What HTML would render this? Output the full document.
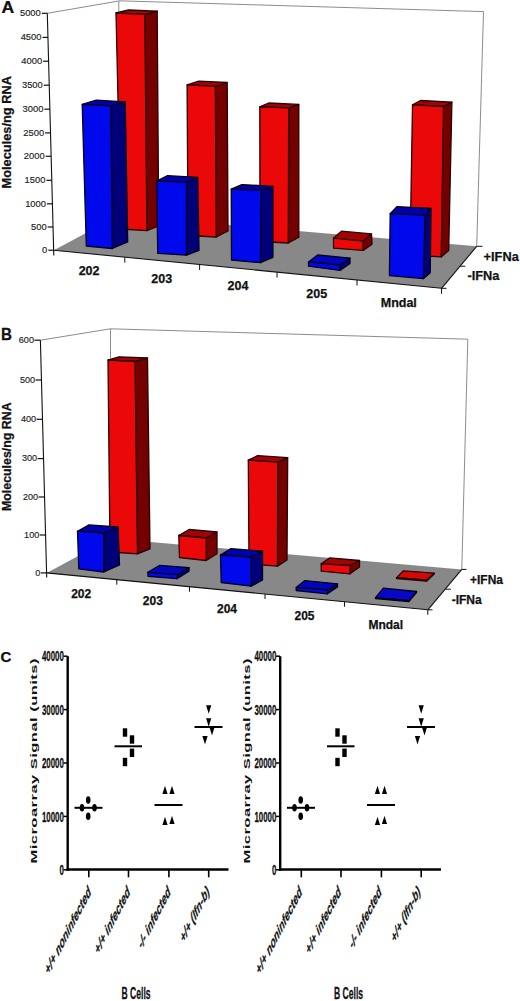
<!DOCTYPE html>
<html><head><meta charset="utf-8"><style>
html,body{margin:0;padding:0;background:#fff;}
body{width:520px;height:1001px;overflow:hidden;}
svg{display:block;font-family:"Liberation Sans",sans-serif;}
</style></head><body>
<svg width="520" height="1001" viewBox="0 0 520 1001">
<rect width="520" height="1001" fill="#fff"/>
<line x1="47.3" y1="13.3" x2="118.8" y2="1.0" stroke="#8c8c8c" stroke-width="1"/>
<line x1="118.8" y1="0.8" x2="483.5" y2="11.6" stroke="#8c8c8c" stroke-width="1"/>
<line x1="483.5" y1="11.6" x2="476.7" y2="246.3" stroke="#8c8c8c" stroke-width="1"/>
<line x1="118.8" y1="1.0" x2="118.8" y2="217.0" stroke="#8c8c8c" stroke-width="1"/>
<polygon points="53.8,250.2 118.8,215.5 476.7,246.3 441.5,288.3" fill="#888888"/>
<polygon points="144.8,14.3 157.2,11.2 158.7,226.0 146.9,230.6" fill="#740000" stroke="#2a0000" stroke-width="1.3" stroke-linejoin="round"/>
<polygon points="116.0,13.0 128.5,10.0 157.2,11.2 144.8,14.3" fill="#a20404" stroke="#2a0000" stroke-width="1.3" stroke-linejoin="round"/>
<polygon points="116.0,13.0 144.8,14.3 146.9,230.6 121.0,229.0" fill="#eb0808" stroke="#2a0000" stroke-width="1.3" stroke-linejoin="round"/>
<polygon points="215.3,86.3 227.2,82.5 228.0,231.0 216.3,237.0" fill="#740000" stroke="#2a0000" stroke-width="1.3" stroke-linejoin="round"/>
<polygon points="187.1,84.9 198.8,81.2 227.2,82.5 215.3,86.3" fill="#a20404" stroke="#2a0000" stroke-width="1.3" stroke-linejoin="round"/>
<polygon points="187.1,84.9 215.3,86.3 216.3,237.0 188.0,235.5" fill="#eb0808" stroke="#2a0000" stroke-width="1.3" stroke-linejoin="round"/>
<polygon points="288.7,107.9 298.8,104.4 298.8,237.3 288.3,243.0" fill="#740000" stroke="#2a0000" stroke-width="1.3" stroke-linejoin="round"/>
<polygon points="259.8,106.9 268.7,103.0 298.8,104.4 288.7,107.9" fill="#a20404" stroke="#2a0000" stroke-width="1.3" stroke-linejoin="round"/>
<polygon points="259.8,106.9 288.7,107.9 288.3,243.0 260.0,241.5" fill="#eb0808" stroke="#2a0000" stroke-width="1.3" stroke-linejoin="round"/>
<polygon points="363.1,241.2 371.5,233.9 372.0,244.2 363.1,250.4" fill="#740000" stroke="#2a0000" stroke-width="1.3" stroke-linejoin="round"/>
<polygon points="333.5,238.1 341.5,231.2 371.5,233.9 363.1,241.2" fill="#a20404" stroke="#2a0000" stroke-width="1.3" stroke-linejoin="round"/>
<polygon points="333.5,238.1 363.1,241.2 363.1,250.4 333.5,248.1" fill="#eb0808" stroke="#2a0000" stroke-width="1.3" stroke-linejoin="round"/>
<polygon points="443.5,106.5 451.9,102.1 448.7,250.4 441.2,256.9" fill="#740000" stroke="#2a0000" stroke-width="1.3" stroke-linejoin="round"/>
<polygon points="412.5,104.8 420.5,100.5 451.9,102.1 443.5,106.5" fill="#a20404" stroke="#2a0000" stroke-width="1.3" stroke-linejoin="round"/>
<polygon points="412.5,104.8 443.5,106.5 441.2,256.9 410.0,255.0" fill="#eb0808" stroke="#2a0000" stroke-width="1.3" stroke-linejoin="round"/>
<polygon points="110.9,105.8 125.2,101.8 127.7,242.0 112.3,248.5" fill="#000078" stroke="#00001a" stroke-width="1.3" stroke-linejoin="round"/>
<polygon points="82.2,104.4 96.3,100.2 125.2,101.8 110.9,105.8" fill="#0000ac" stroke="#00001a" stroke-width="1.3" stroke-linejoin="round"/>
<polygon points="82.2,104.4 110.9,105.8 112.3,248.5 86.3,246.0" fill="#0008ec" stroke="#00001a" stroke-width="1.3" stroke-linejoin="round"/>
<polygon points="186.5,182.2 197.7,177.3 199.0,250.4 186.5,255.2" fill="#000078" stroke="#00001a" stroke-width="1.3" stroke-linejoin="round"/>
<polygon points="156.7,181.2 167.6,175.7 197.7,177.3 186.5,182.2" fill="#0000ac" stroke="#00001a" stroke-width="1.3" stroke-linejoin="round"/>
<polygon points="156.7,181.2 186.5,182.2 186.5,255.2 157.7,253.3" fill="#0008ec" stroke="#00001a" stroke-width="1.3" stroke-linejoin="round"/>
<polygon points="261.3,190.2 272.9,186.3 272.9,257.5 260.4,262.7" fill="#000078" stroke="#00001a" stroke-width="1.3" stroke-linejoin="round"/>
<polygon points="231.2,189.2 241.9,184.6 272.9,186.3 261.3,190.2" fill="#0000ac" stroke="#00001a" stroke-width="1.3" stroke-linejoin="round"/>
<polygon points="231.2,189.2 261.3,190.2 260.4,262.7 231.5,260.0" fill="#0008ec" stroke="#00001a" stroke-width="1.3" stroke-linejoin="round"/>
<polygon points="340.0,265.0 350.0,258.1 350.0,263.5 340.0,270.4" fill="#000078" stroke="#00001a" stroke-width="1.3" stroke-linejoin="round"/>
<polygon points="308.5,261.9 317.6,255.0 350.0,258.1 340.0,265.0" fill="#0006c0" stroke="#00001a" stroke-width="1.3" stroke-linejoin="round"/>
<polygon points="308.5,261.9 340.0,265.0 340.0,270.4 308.5,266.2" fill="#0008ec" stroke="#00001a" stroke-width="1.3" stroke-linejoin="round"/>
<polygon points="425.0,215.2 431.0,208.5 430.2,272.8 423.5,278.6" fill="#000078" stroke="#00001a" stroke-width="1.3" stroke-linejoin="round"/>
<polygon points="390.2,213.7 396.9,206.6 431.0,208.5 425.0,215.2" fill="#0000ac" stroke="#00001a" stroke-width="1.3" stroke-linejoin="round"/>
<polygon points="390.2,213.7 425.0,215.2 423.5,278.6 389.4,275.6" fill="#0008ec" stroke="#00001a" stroke-width="1.3" stroke-linejoin="round"/>
<line x1="53.8" y1="250.2" x2="441.5" y2="288.3" stroke="#111" stroke-width="1.1"/>
<line x1="441.5" y1="288.3" x2="476.7" y2="246.3" stroke="#111" stroke-width="1.1"/>
<line x1="476.7" y1="246.3" x2="482.5" y2="246.3" stroke="#111" stroke-width="1"/>
<line x1="460.0" y1="266.2" x2="465.2" y2="266.2" stroke="#111" stroke-width="1"/>
<line x1="441.5" y1="288.3" x2="446.5" y2="288.3" stroke="#111" stroke-width="1"/>
<line x1="124.8" y1="257.2" x2="124.8" y2="262.7" stroke="#111" stroke-width="1"/>
<line x1="199.6" y1="264.5" x2="199.6" y2="270.0" stroke="#111" stroke-width="1"/>
<line x1="277.0" y1="272.1" x2="277.0" y2="277.6" stroke="#111" stroke-width="1"/>
<line x1="357.0" y1="280.0" x2="357.0" y2="285.5" stroke="#111" stroke-width="1"/>
<line x1="441.5" y1="288.3" x2="441.5" y2="293.8" stroke="#111" stroke-width="1"/>
<line x1="47.3" y1="13.3" x2="53.8" y2="255.5" stroke="#111" stroke-width="1.1"/>
<line x1="41.8" y1="13.3" x2="47.3" y2="13.3" stroke="#111" stroke-width="1.2"/>
<text x="40.8" y="16.0" font-size="9.4" font-weight="normal" text-anchor="end" fill="#222" stroke="#222" stroke-width="0.15" >5000</text>
<line x1="42.5" y1="37.4" x2="48.0" y2="37.4" stroke="#111" stroke-width="1.2"/>
<text x="41.5" y="40.1" font-size="9.4" font-weight="normal" text-anchor="end" fill="#222" stroke="#222" stroke-width="0.15" >4500</text>
<line x1="43.1" y1="61.2" x2="48.6" y2="61.2" stroke="#111" stroke-width="1.2"/>
<text x="42.1" y="63.9" font-size="9.4" font-weight="normal" text-anchor="end" fill="#222" stroke="#222" stroke-width="0.15" >4000</text>
<line x1="43.8" y1="85.2" x2="49.3" y2="85.2" stroke="#111" stroke-width="1.2"/>
<text x="42.8" y="87.9" font-size="9.4" font-weight="normal" text-anchor="end" fill="#222" stroke="#222" stroke-width="0.15" >3500</text>
<line x1="44.4" y1="109.2" x2="49.9" y2="109.2" stroke="#111" stroke-width="1.2"/>
<text x="43.4" y="111.9" font-size="9.4" font-weight="normal" text-anchor="end" fill="#222" stroke="#222" stroke-width="0.15" >3000</text>
<line x1="45.1" y1="132.9" x2="50.6" y2="132.9" stroke="#111" stroke-width="1.2"/>
<text x="44.1" y="135.6" font-size="9.4" font-weight="normal" text-anchor="end" fill="#222" stroke="#222" stroke-width="0.15" >2500</text>
<line x1="45.7" y1="156.3" x2="51.2" y2="156.3" stroke="#111" stroke-width="1.2"/>
<text x="44.7" y="159.0" font-size="9.4" font-weight="normal" text-anchor="end" fill="#222" stroke="#222" stroke-width="0.15" >2000</text>
<line x1="46.4" y1="180.3" x2="51.9" y2="180.3" stroke="#111" stroke-width="1.2"/>
<text x="45.4" y="183.0" font-size="9.4" font-weight="normal" text-anchor="end" fill="#222" stroke="#222" stroke-width="0.15" >1500</text>
<line x1="47.0" y1="203.8" x2="52.5" y2="203.8" stroke="#111" stroke-width="1.2"/>
<text x="46.0" y="206.5" font-size="9.4" font-weight="normal" text-anchor="end" fill="#222" stroke="#222" stroke-width="0.15" >1000</text>
<line x1="47.7" y1="227.0" x2="53.2" y2="227.0" stroke="#111" stroke-width="1.2"/>
<text x="46.7" y="229.7" font-size="9.4" font-weight="normal" text-anchor="end" fill="#222" stroke="#222" stroke-width="0.15" >500</text>
<line x1="48.3" y1="250.2" x2="53.8" y2="250.2" stroke="#111" stroke-width="1.2"/>
<text x="47.3" y="252.9" font-size="9.4" font-weight="normal" text-anchor="end" fill="#222" stroke="#222" stroke-width="0.15" >0</text>
<text x="1.6" y="12.7" font-size="16" font-weight="bold" text-anchor="start" fill="#111" stroke="#111" stroke-width="0.25" transform="translate(1.6,12.7) scale(1.1,1) translate(-1.6,-12.7)">A</text>
<text transform="translate(11,132.3) rotate(-90)" font-size="12.8" font-weight="bold" text-anchor="middle" fill="#111" stroke="#111" stroke-width="0.25">Molecules/ng RNA</text>
<text x="89.1" y="275.0" font-size="12.5" font-weight="bold" text-anchor="middle" fill="#111" stroke="#111" stroke-width="0.25" >202</text>
<text x="161.7" y="282.9" font-size="12.5" font-weight="bold" text-anchor="middle" fill="#111" stroke="#111" stroke-width="0.25" >203</text>
<text x="238.0" y="290.2" font-size="12.5" font-weight="bold" text-anchor="middle" fill="#111" stroke="#111" stroke-width="0.25" >204</text>
<text x="316.8" y="297.7" font-size="12.5" font-weight="bold" text-anchor="middle" fill="#111" stroke="#111" stroke-width="0.25" >205</text>
<text x="398.8" y="306.8" font-size="12.5" font-weight="bold" text-anchor="middle" fill="#111" stroke="#111" stroke-width="0.25" >Mndal</text>
<text x="483.6" y="260.5" font-size="12.8" font-weight="bold" text-anchor="start" fill="#111" stroke="#111" stroke-width="0.25" >+IFNa</text>
<text x="467.4" y="280.2" font-size="12.8" font-weight="bold" text-anchor="start" fill="#111" stroke="#111" stroke-width="0.25" >-IFNa</text>
<line x1="40.4" y1="340.2" x2="110.5" y2="328.8" stroke="#8c8c8c" stroke-width="1"/>
<line x1="110.5" y1="328.8" x2="467.8" y2="339.2" stroke="#8c8c8c" stroke-width="1"/>
<line x1="467.8" y1="339.2" x2="461.8" y2="569.4" stroke="#8c8c8c" stroke-width="1"/>
<line x1="110.5" y1="328.8" x2="110.5" y2="540.0" stroke="#8c8c8c" stroke-width="1"/>
<polygon points="46.7,572.9 110.5,538.6 461.8,569.4 427.8,609.8" fill="#888888"/>
<polygon points="135.0,361.5 147.5,358.0 150.0,548.8 137.5,553.8" fill="#740000" stroke="#2a0000" stroke-width="1.3" stroke-linejoin="round"/>
<polygon points="108.0,360.0 119.0,356.8 147.5,358.0 135.0,361.5" fill="#a20404" stroke="#2a0000" stroke-width="1.3" stroke-linejoin="round"/>
<polygon points="108.0,360.0 135.0,361.5 137.5,553.8 110.0,552.0" fill="#eb0808" stroke="#2a0000" stroke-width="1.3" stroke-linejoin="round"/>
<polygon points="206.2,538.0 217.0,532.0 217.0,553.8 206.2,560.5" fill="#740000" stroke="#2a0000" stroke-width="1.3" stroke-linejoin="round"/>
<polygon points="178.8,535.5 189.1,529.5 217.0,532.0 206.2,538.0" fill="#a20404" stroke="#2a0000" stroke-width="1.3" stroke-linejoin="round"/>
<polygon points="178.8,535.5 206.2,538.0 206.2,560.5 179.5,557.5" fill="#eb0808" stroke="#2a0000" stroke-width="1.3" stroke-linejoin="round"/>
<polygon points="277.7,462.1 287.7,457.7 287.0,560.0 277.5,566.2" fill="#740000" stroke="#2a0000" stroke-width="1.3" stroke-linejoin="round"/>
<polygon points="248.3,460.2 257.6,455.6 287.7,457.7 277.7,462.1" fill="#a20404" stroke="#2a0000" stroke-width="1.3" stroke-linejoin="round"/>
<polygon points="248.3,460.2 277.7,462.1 277.5,566.2 249.0,564.0" fill="#eb0808" stroke="#2a0000" stroke-width="1.3" stroke-linejoin="round"/>
<polygon points="350.0,565.5 359.5,560.5 359.5,567.0 350.0,573.8" fill="#740000" stroke="#2a0000" stroke-width="1.3" stroke-linejoin="round"/>
<polygon points="321.2,563.8 329.8,557.9 359.5,560.5 350.0,565.5" fill="#a20404" stroke="#2a0000" stroke-width="1.3" stroke-linejoin="round"/>
<polygon points="321.2,563.8 350.0,565.5 350.0,573.8 321.2,571.2" fill="#eb0808" stroke="#2a0000" stroke-width="1.3" stroke-linejoin="round"/>
<polygon points="426.5,580.2 434.2,573.1 434.2,574.1 426.5,581.2" fill="#740000" stroke="#2a0000" stroke-width="1.3" stroke-linejoin="round"/>
<polygon points="396.5,577.6 403.5,570.8 434.2,573.1 426.5,580.2" fill="#d40808" stroke="#2a0000" stroke-width="1.3" stroke-linejoin="round"/>
<polygon points="396.5,577.6 426.5,580.2 426.5,581.2 396.5,578.6" fill="#eb0808" stroke="#2a0000" stroke-width="1.3" stroke-linejoin="round"/>
<polygon points="103.8,533.0 118.0,527.0 119.5,565.0 103.8,572.0" fill="#000078" stroke="#00001a" stroke-width="1.3" stroke-linejoin="round"/>
<polygon points="77.5,531.2 89.0,524.9 118.0,527.0 103.8,533.0" fill="#0000ac" stroke="#00001a" stroke-width="1.3" stroke-linejoin="round"/>
<polygon points="77.5,531.2 103.8,533.0 103.8,572.0 78.8,568.8" fill="#0008ec" stroke="#00001a" stroke-width="1.3" stroke-linejoin="round"/>
<polygon points="177.5,574.6 189.0,567.7 189.0,571.2 177.0,578.7" fill="#000078" stroke="#00001a" stroke-width="1.3" stroke-linejoin="round"/>
<polygon points="147.8,572.3 159.8,565.3 189.0,567.7 177.5,574.6" fill="#0006c0" stroke="#00001a" stroke-width="1.3" stroke-linejoin="round"/>
<polygon points="147.8,572.3 177.5,574.6 177.0,578.7 148.1,576.3" fill="#0008ec" stroke="#00001a" stroke-width="1.3" stroke-linejoin="round"/>
<polygon points="251.2,557.0 262.5,551.2 262.5,580.0 251.2,586.2" fill="#000078" stroke="#00001a" stroke-width="1.3" stroke-linejoin="round"/>
<polygon points="220.5,555.0 230.9,548.6 262.5,551.2 251.2,557.0" fill="#0000ac" stroke="#00001a" stroke-width="1.3" stroke-linejoin="round"/>
<polygon points="220.5,555.0 251.2,557.0 251.2,586.2 221.2,582.5" fill="#0008ec" stroke="#00001a" stroke-width="1.3" stroke-linejoin="round"/>
<polygon points="328.0,590.0 337.5,583.8 337.5,587.0 327.5,593.8" fill="#000078" stroke="#00001a" stroke-width="1.3" stroke-linejoin="round"/>
<polygon points="296.2,587.5 304.8,580.6 337.5,583.8 328.0,590.0" fill="#0006c0" stroke="#00001a" stroke-width="1.3" stroke-linejoin="round"/>
<polygon points="296.2,587.5 328.0,590.0 327.5,593.8 296.2,590.5" fill="#0008ec" stroke="#00001a" stroke-width="1.3" stroke-linejoin="round"/>
<polygon points="408.8,600.6 416.5,591.5 416.5,592.5 408.8,601.6" fill="#000078" stroke="#00001a" stroke-width="1.3" stroke-linejoin="round"/>
<polygon points="375.5,597.6 383.4,588.2 416.5,591.5 408.8,600.6" fill="#0808c8" stroke="#00001a" stroke-width="1.3" stroke-linejoin="round"/>
<polygon points="375.5,597.6 408.8,600.6 408.8,601.6 375.5,598.6" fill="#0008ec" stroke="#00001a" stroke-width="1.3" stroke-linejoin="round"/>
<line x1="46.7" y1="572.9" x2="427.8" y2="609.8" stroke="#111" stroke-width="1.1"/>
<line x1="427.8" y1="609.8" x2="461.8" y2="569.4" stroke="#111" stroke-width="1.1"/>
<line x1="461.8" y1="569.4" x2="466.5" y2="569.4" stroke="#111" stroke-width="1"/>
<line x1="445.6" y1="589.2" x2="450.8" y2="589.2" stroke="#111" stroke-width="1"/>
<line x1="427.8" y1="609.8" x2="432.5" y2="609.8" stroke="#111" stroke-width="1"/>
<line x1="116.8" y1="579.7" x2="116.8" y2="584.7" stroke="#111" stroke-width="1"/>
<line x1="189.5" y1="586.7" x2="189.5" y2="591.7" stroke="#111" stroke-width="1"/>
<line x1="265.0" y1="594.0" x2="265.0" y2="599.0" stroke="#111" stroke-width="1"/>
<line x1="344.5" y1="601.7" x2="344.5" y2="606.7" stroke="#111" stroke-width="1"/>
<line x1="427.8" y1="609.8" x2="427.8" y2="614.8" stroke="#111" stroke-width="1"/>
<line x1="40.4" y1="340.2" x2="46.7" y2="577.5" stroke="#111" stroke-width="1.1"/>
<line x1="34.4" y1="340.2" x2="40.4" y2="340.2" stroke="#111" stroke-width="1.2"/>
<text x="34.0" y="343.0" font-size="9.1" font-weight="normal" text-anchor="end" fill="#222" stroke="#222" stroke-width="0.15" >600</text>
<line x1="35.5" y1="380.0" x2="41.5" y2="380.0" stroke="#111" stroke-width="1.2"/>
<text x="35.1" y="382.8" font-size="9.1" font-weight="normal" text-anchor="end" fill="#222" stroke="#222" stroke-width="0.15" >500</text>
<line x1="36.5" y1="419.3" x2="42.5" y2="419.3" stroke="#111" stroke-width="1.2"/>
<text x="36.1" y="422.1" font-size="9.1" font-weight="normal" text-anchor="end" fill="#222" stroke="#222" stroke-width="0.15" >400</text>
<line x1="37.6" y1="458.6" x2="43.6" y2="458.6" stroke="#111" stroke-width="1.2"/>
<text x="37.2" y="461.4" font-size="9.1" font-weight="normal" text-anchor="end" fill="#222" stroke="#222" stroke-width="0.15" >300</text>
<line x1="38.6" y1="497.0" x2="44.6" y2="497.0" stroke="#111" stroke-width="1.2"/>
<text x="38.2" y="499.8" font-size="9.1" font-weight="normal" text-anchor="end" fill="#222" stroke="#222" stroke-width="0.15" >200</text>
<line x1="39.7" y1="535.0" x2="45.7" y2="535.0" stroke="#111" stroke-width="1.2"/>
<text x="39.3" y="537.8" font-size="9.1" font-weight="normal" text-anchor="end" fill="#222" stroke="#222" stroke-width="0.15" >100</text>
<line x1="40.7" y1="572.9" x2="46.7" y2="572.9" stroke="#111" stroke-width="1.2"/>
<text x="40.3" y="575.7" font-size="9.1" font-weight="normal" text-anchor="end" fill="#222" stroke="#222" stroke-width="0.15" >0</text>
<text x="1.0" y="340.4" font-size="16" font-weight="bold" text-anchor="start" fill="#111" stroke="#111" stroke-width="0.25" transform="translate(1,340.4) scale(0.95,1.06) translate(-1,-340.4)">B</text>
<text transform="translate(10.5,456.7) rotate(-90)" font-size="12.4" font-weight="bold" text-anchor="middle" fill="#111" stroke="#111" stroke-width="0.25">Molecules/ng RNA</text>
<text x="81.2" y="598.0" font-size="12" font-weight="bold" text-anchor="middle" fill="#111" stroke="#111" stroke-width="0.25" >202</text>
<text x="152.8" y="604.5" font-size="12" font-weight="bold" text-anchor="middle" fill="#111" stroke="#111" stroke-width="0.25" >203</text>
<text x="227.0" y="612.5" font-size="12" font-weight="bold" text-anchor="middle" fill="#111" stroke="#111" stroke-width="0.25" >204</text>
<text x="304.5" y="620.0" font-size="12" font-weight="bold" text-anchor="middle" fill="#111" stroke="#111" stroke-width="0.25" >205</text>
<text x="385.8" y="628.6" font-size="12" font-weight="bold" text-anchor="middle" fill="#111" stroke="#111" stroke-width="0.25" >Mndal</text>
<text x="470.0" y="583.7" font-size="12" font-weight="bold" text-anchor="start" fill="#111" stroke="#111" stroke-width="0.25" >+IFNa</text>
<text x="451.7" y="604.0" font-size="12" font-weight="bold" text-anchor="start" fill="#111" stroke="#111" stroke-width="0.25" >-IFNa</text>
<line x1="67.7" y1="656.2" x2="67.7" y2="870.8" stroke="#000" stroke-width="2.4"/>
<line x1="66.5" y1="869.5" x2="228.5" y2="869.5" stroke="#000" stroke-width="2.5"/>
<line x1="63.5" y1="869.8" x2="67.5" y2="869.8" stroke="#000" stroke-width="1.5"/>
<text transform="translate(63.9,875.0) scale(0.545,1)" font-size="14.5" font-weight="bold" font-style="normal" text-anchor="end" fill="#111" stroke="#111" stroke-width="0.3">0</text>
<line x1="63.5" y1="816.4" x2="67.5" y2="816.4" stroke="#000" stroke-width="1.5"/>
<text transform="translate(63.9,821.6) scale(0.545,1)" font-size="14.5" font-weight="bold" font-style="normal" text-anchor="end" fill="#111" stroke="#111" stroke-width="0.3">10000</text>
<line x1="63.5" y1="763.0" x2="67.5" y2="763.0" stroke="#000" stroke-width="1.5"/>
<text transform="translate(63.9,768.2) scale(0.545,1)" font-size="14.5" font-weight="bold" font-style="normal" text-anchor="end" fill="#111" stroke="#111" stroke-width="0.3">20000</text>
<line x1="63.5" y1="709.6" x2="67.5" y2="709.6" stroke="#000" stroke-width="1.5"/>
<text transform="translate(63.9,714.8) scale(0.545,1)" font-size="14.5" font-weight="bold" font-style="normal" text-anchor="end" fill="#111" stroke="#111" stroke-width="0.3">30000</text>
<line x1="63.5" y1="656.2" x2="67.5" y2="656.2" stroke="#000" stroke-width="1.5"/>
<text transform="translate(63.9,661.4) scale(0.545,1)" font-size="14.5" font-weight="bold" font-style="normal" text-anchor="end" fill="#111" stroke="#111" stroke-width="0.3">40000</text>
<line x1="88.8" y1="869.8" x2="88.8" y2="877.3" stroke="#000" stroke-width="1.6"/>
<line x1="128.5" y1="869.8" x2="128.5" y2="877.3" stroke="#000" stroke-width="1.6"/>
<line x1="168.9" y1="869.8" x2="168.9" y2="877.3" stroke="#000" stroke-width="1.6"/>
<line x1="208.7" y1="869.8" x2="208.7" y2="877.3" stroke="#000" stroke-width="1.6"/>
<line x1="74.5" y1="807.8" x2="102.5" y2="807.8" stroke="#000" stroke-width="2"/>
<ellipse cx="88.2" cy="800.0" rx="2.3" ry="3.8" fill="#000"/>
<ellipse cx="82.0" cy="807.8" rx="2.3" ry="3.8" fill="#000"/>
<ellipse cx="94.5" cy="807.8" rx="2.3" ry="3.8" fill="#000"/>
<ellipse cx="88.2" cy="816.3" rx="2.3" ry="3.8" fill="#000"/>
<line x1="114.5" y1="746.3" x2="142.0" y2="746.3" stroke="#000" stroke-width="2"/>
<rect x="122.8" y="728.3" width="4.4" height="8.4" fill="#000"/>
<rect x="129.8" y="735.3" width="4.4" height="8.4" fill="#000"/>
<rect x="129.8" y="748.6" width="4.4" height="8.4" fill="#000"/>
<rect x="122.8" y="757.8" width="4.4" height="8.4" fill="#000"/>
<line x1="154.5" y1="805.0" x2="182.5" y2="805.0" stroke="#000" stroke-width="2"/>
<polygon points="165.0,785.8 167.6,794.0 162.4,794.0" fill="#000"/>
<polygon points="172.0,785.8 174.6,794.0 169.4,794.0" fill="#000"/>
<polygon points="165.0,816.8 167.6,825.0 162.4,825.0" fill="#000"/>
<polygon points="172.0,815.8 174.6,824.0 169.4,824.0" fill="#000"/>
<line x1="194.5" y1="727.0" x2="222.5" y2="727.0" stroke="#000" stroke-width="2"/>
<polygon points="206.1,705.3 211.3,705.3 208.7,713.7" fill="#000"/>
<polygon points="206.1,718.3 211.3,718.3 208.7,726.7" fill="#000"/>
<polygon points="209.4,727.1 214.6,727.1 212.0,735.5" fill="#000"/>
<polygon points="202.4,736.1 207.6,736.1 205.0,744.5" fill="#000"/>
<text transform="translate(37.2,761.0) scale(0.52,1) rotate(-90)" font-size="16.5" font-weight="bold" text-anchor="middle" textLength="205" lengthAdjust="spacing" fill="#111">Microarray Signal (units)</text>
<text transform="translate(91.5,892.8) scale(0.52,1) rotate(-45)" font-size="15.9" font-weight="bold" font-style="italic" text-anchor="end" fill="#111" stroke="#111" stroke-width="0.3">+/+ noninfected</text>
<text transform="translate(130.5,893.0) scale(0.52,1) rotate(-45)" font-size="15.9" font-weight="bold" font-style="italic" text-anchor="end" fill="#111" stroke="#111" stroke-width="0.3">+/+ infected</text>
<text transform="translate(171.0,893.0) scale(0.52,1) rotate(-45)" font-size="15.9" font-weight="bold" font-style="italic" text-anchor="end" fill="#111" stroke="#111" stroke-width="0.3">-/- infected</text>
<text transform="translate(210.0,892.5) scale(0.52,1) rotate(-45)" font-size="15.9" font-weight="bold" font-style="italic" text-anchor="end" fill="#111" stroke="#111" stroke-width="0.3">+/+ (<tspan font-style="italic">Ifn-b</tspan>)</text>
<text transform="translate(136.0,998.5) scale(0.52,1)" font-size="16.5" font-weight="bold" font-style="normal" text-anchor="middle" fill="#111" stroke="#111" stroke-width="0.3">B Cells</text>
<line x1="280.2" y1="656.2" x2="280.2" y2="870.8" stroke="#000" stroke-width="2.4"/>
<line x1="279.0" y1="869.5" x2="441.0" y2="869.5" stroke="#000" stroke-width="2.5"/>
<line x1="276.0" y1="869.8" x2="280.0" y2="869.8" stroke="#000" stroke-width="1.5"/>
<text transform="translate(276.4,875.0) scale(0.545,1)" font-size="14.5" font-weight="bold" font-style="normal" text-anchor="end" fill="#111" stroke="#111" stroke-width="0.3">0</text>
<line x1="276.0" y1="816.4" x2="280.0" y2="816.4" stroke="#000" stroke-width="1.5"/>
<text transform="translate(276.4,821.6) scale(0.545,1)" font-size="14.5" font-weight="bold" font-style="normal" text-anchor="end" fill="#111" stroke="#111" stroke-width="0.3">10000</text>
<line x1="276.0" y1="763.0" x2="280.0" y2="763.0" stroke="#000" stroke-width="1.5"/>
<text transform="translate(276.4,768.2) scale(0.545,1)" font-size="14.5" font-weight="bold" font-style="normal" text-anchor="end" fill="#111" stroke="#111" stroke-width="0.3">20000</text>
<line x1="276.0" y1="709.6" x2="280.0" y2="709.6" stroke="#000" stroke-width="1.5"/>
<text transform="translate(276.4,714.8) scale(0.545,1)" font-size="14.5" font-weight="bold" font-style="normal" text-anchor="end" fill="#111" stroke="#111" stroke-width="0.3">30000</text>
<line x1="276.0" y1="656.2" x2="280.0" y2="656.2" stroke="#000" stroke-width="1.5"/>
<text transform="translate(276.4,661.4) scale(0.545,1)" font-size="14.5" font-weight="bold" font-style="normal" text-anchor="end" fill="#111" stroke="#111" stroke-width="0.3">40000</text>
<line x1="301.3" y1="869.8" x2="301.3" y2="877.3" stroke="#000" stroke-width="1.6"/>
<line x1="341.0" y1="869.8" x2="341.0" y2="877.3" stroke="#000" stroke-width="1.6"/>
<line x1="381.4" y1="869.8" x2="381.4" y2="877.3" stroke="#000" stroke-width="1.6"/>
<line x1="421.2" y1="869.8" x2="421.2" y2="877.3" stroke="#000" stroke-width="1.6"/>
<line x1="287.0" y1="807.8" x2="315.0" y2="807.8" stroke="#000" stroke-width="2"/>
<ellipse cx="300.7" cy="800.0" rx="2.3" ry="3.8" fill="#000"/>
<ellipse cx="294.5" cy="807.8" rx="2.3" ry="3.8" fill="#000"/>
<ellipse cx="307.0" cy="807.8" rx="2.3" ry="3.8" fill="#000"/>
<ellipse cx="300.7" cy="816.3" rx="2.3" ry="3.8" fill="#000"/>
<line x1="327.0" y1="746.3" x2="354.5" y2="746.3" stroke="#000" stroke-width="2"/>
<rect x="335.3" y="728.3" width="4.4" height="8.4" fill="#000"/>
<rect x="342.3" y="735.3" width="4.4" height="8.4" fill="#000"/>
<rect x="342.3" y="748.6" width="4.4" height="8.4" fill="#000"/>
<rect x="335.3" y="757.8" width="4.4" height="8.4" fill="#000"/>
<line x1="367.0" y1="805.0" x2="395.0" y2="805.0" stroke="#000" stroke-width="2"/>
<polygon points="377.5,785.8 380.1,794.0 374.9,794.0" fill="#000"/>
<polygon points="384.5,785.8 387.1,794.0 381.9,794.0" fill="#000"/>
<polygon points="377.5,816.8 380.1,825.0 374.9,825.0" fill="#000"/>
<polygon points="384.5,815.8 387.1,824.0 381.9,824.0" fill="#000"/>
<line x1="407.0" y1="727.0" x2="435.0" y2="727.0" stroke="#000" stroke-width="2"/>
<polygon points="418.6,705.3 423.8,705.3 421.2,713.7" fill="#000"/>
<polygon points="418.6,718.3 423.8,718.3 421.2,726.7" fill="#000"/>
<polygon points="421.9,727.1 427.1,727.1 424.5,735.5" fill="#000"/>
<polygon points="414.9,736.1 420.1,736.1 417.5,744.5" fill="#000"/>
<text transform="translate(249.7,761.0) scale(0.52,1) rotate(-90)" font-size="16.5" font-weight="bold" text-anchor="middle" textLength="205" lengthAdjust="spacing" fill="#111">Microarray Signal (units)</text>
<text transform="translate(302.5,892.8) scale(0.52,1) rotate(-45)" font-size="15.9" font-weight="bold" font-style="italic" text-anchor="end" fill="#111" stroke="#111" stroke-width="0.3">+/+ noninfected</text>
<text transform="translate(341.5,893.0) scale(0.52,1) rotate(-45)" font-size="15.9" font-weight="bold" font-style="italic" text-anchor="end" fill="#111" stroke="#111" stroke-width="0.3">+/+ infected</text>
<text transform="translate(382.0,893.0) scale(0.52,1) rotate(-45)" font-size="15.9" font-weight="bold" font-style="italic" text-anchor="end" fill="#111" stroke="#111" stroke-width="0.3">-/- infected</text>
<text transform="translate(421.0,892.5) scale(0.52,1) rotate(-45)" font-size="15.9" font-weight="bold" font-style="italic" text-anchor="end" fill="#111" stroke="#111" stroke-width="0.3">+/+ (<tspan font-style="italic">Ifn-b</tspan>)</text>
<text transform="translate(348.5,998.5) scale(0.52,1)" font-size="16.5" font-weight="bold" font-style="normal" text-anchor="middle" fill="#111" stroke="#111" stroke-width="0.3">B Cells</text>
<text x="0.6" y="662.0" font-size="15" font-weight="bold" text-anchor="start" fill="#111" stroke="#111" stroke-width="0.25" >C</text>
</svg>
</body></html>
